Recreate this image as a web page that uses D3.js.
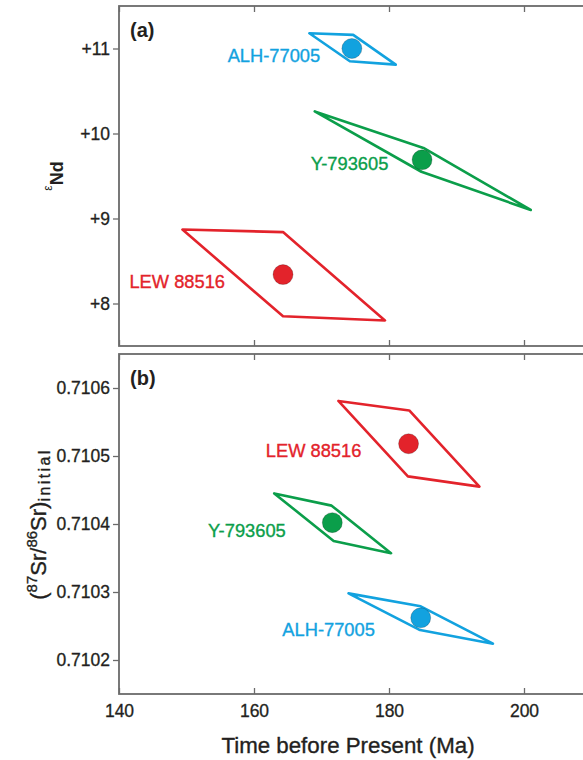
<!DOCTYPE html>
<html>
<head>
<meta charset="utf-8">
<script src="https://cdn.jsdelivr.net/npm/d3@7/dist/d3.min.js"></script>
<style>
  body { margin: 0; background: #fff; }
  svg { display: block; font-family: "Liberation Sans", Arial, sans-serif; }
  .frame { fill: none; stroke: #6b6b6b; stroke-width: 1.8; }
  .axis path { display: none; }
  .axis line { stroke: #6b6b6b; stroke-width: 1.3; }
  .axis text { font-size: 17.5px; fill: #231f20; stroke: #231f20; stroke-width: 0.3; font-family: "Liberation Sans", Arial, sans-serif; }
  .heavy { stroke-width: 0.35; }
</style>
</head>
<body>
<svg id="chart" width="583" height="760"></svg>
<script>
// Ticks
var timeTicks = [140, 160, 180, 200];
var ndTicks = [8, 9, 10, 11];
var srTicks = [0.7102, 0.7103, 0.7104, 0.7105, 0.7106];

// Samples, in the same order for every array below
var samples = ['ALH-77005', 'Y-793605', 'LEW 88516'];
var sampleColors = ['#12a2df', '#0b9e4a', '#e3232b'];

// (a) epsilon Nd vs age
var ndAge = [174.5, 184.9, 164.3];
var ndValue = [11.0, 9.69, 8.34];
var ndBoxes = [
  [[168.2, 11.18], [174.7, 11.16], [181.0, 10.81], [174.2, 10.85]],
  [[169.0, 10.26], [185.1, 9.83], [201.0, 9.10], [184.8, 9.55]],
  [[149.4, 8.87], [164.3, 8.84], [179.4, 7.80], [164.3, 7.85]]
];
// label anchors (text end), data units
var ndLabelAt = [[169.8, 10.84], [179.9, 9.57], [155.7, 8.18]];

// (b) initial Sr vs age
var srAge = [184.7, 171.6, 182.9];
var srValue = [0.710262, 0.710402, 0.710518];
var srBoxes = [
  [[174.0, 0.710298], [184.7, 0.710279], [195.4, 0.710224], [184.6, 0.710244]],
  [[163.0, 0.710445], [171.5, 0.710427], [180.3, 0.710357], [171.8, 0.710375]],
  [[172.5, 0.710581], [183.0, 0.710567], [193.4, 0.710455], [182.8, 0.710470]]
];
var srLabelAt = [[177.9, 0.710236], [164.7, 0.710381], [175.9, 0.710499]];

var svg = d3.select('#chart');

// Shared time scale (right edge runs off the page like the original)
var x = d3.scaleLinear().domain([140, 210]).range([119, 591.5]);

// Draw one panel
function drawPanel(opts) {
  var y = opts.y;
  var top = y.range()[1], bottom = y.range()[0];
  var g = svg.append('g');

  // Frame
  g.append('rect')
    .attr('class', 'frame')
    .attr('x', x.range()[0])
    .attr('y', top)
    .attr('width', x.range()[1] - x.range()[0])
    .attr('height', bottom - top);

  // Left axis, ticks out
  g.append('g')
    .attr('class', 'axis')
    .attr('transform', 'translate(' + x.range()[0] + ',0)')
    .call(d3.axisLeft(y).tickValues(opts.ticks).tickSize(6).tickPadding(3).tickFormat(opts.format));

  // Top and bottom ticks, pointing in
  g.append('g')
    .attr('class', 'axis')
    .attr('transform', 'translate(0,' + top + ')')
    .call(d3.axisTop(x).tickValues(timeTicks).tickSize(-6).tickFormat(''));

  var bottomAxis = d3.axisBottom(x).tickValues(timeTicks).tickSize(-6).tickPadding(11);
  if (!opts.timeLabels) bottomAxis.tickFormat('');
  g.append('g')
    .attr('class', 'axis')
    .attr('transform', 'translate(0,' + bottom + ')')
    .call(bottomAxis);

  // Panel letter
  g.append('text')
    .attr('x', 130)
    .attr('y', top + 31)
    .attr('font-size', 20)
    .attr('font-weight', 'bold')
    .attr('fill', '#231f20')
    .text(opts.letter);

  // Error parallelograms
  var line = d3.line()
    .x(function(d) { return x(d[0]); })
    .y(function(d) { return y(d[1]); })
    .curve(d3.curveLinearClosed);

  g.selectAll('.box')
    .data(opts.boxes)
    .enter().append('path')
    .attr('class', 'box')
    .attr('d', line)
    .attr('fill', 'none')
    .attr('stroke-width', 2.6)
    .attr('stroke-linejoin', 'round')
    .attr('stroke', function(d, i) { return sampleColors[i]; });

  // Points
  g.selectAll('.pt')
    .data(opts.age)
    .enter().append('circle')
    .attr('class', 'pt')
    .attr('cx', function(d) { return x(d); })
    .attr('cy', function(d, i) { return y(opts.value[i]); })
    .attr('r', 10)
    .attr('fill', function(d, i) { return sampleColors[i]; })
    .attr('stroke', 'rgba(0,0,0,0.25)')
    .attr('stroke-width', 0.8);

  // Sample labels
  g.selectAll('.lbl')
    .data(opts.labelAt)
    .enter().append('text')
    .attr('class', 'lbl heavy')
    .attr('x', function(d) { return x(d[0]); })
    .attr('y', function(d) { return y(d[1]); })
    .attr('text-anchor', 'end')
    .attr('font-size', 18.3)
    .attr('fill', function(d, i) { return sampleColors[i]; })
    .attr('stroke', function(d, i) { return sampleColors[i]; })
    .text(function(d, i) { return samples[i]; });
}

// (a)
var yNd = d3.scaleLinear().domain([7.5, 11.5]).range([346, 6]);
drawPanel({
  y: yNd,
  ticks: ndTicks,
  format: function(d) { return '+' + d; },
  letter: '(a)',
  boxes: ndBoxes,
  age: ndAge,
  value: ndValue,
  labelAt: ndLabelAt,
  timeLabels: false
});

// (b)
var ySr = d3.scaleLinear().domain([0.71015, 0.71065]).range([694, 354]);
drawPanel({
  y: ySr,
  ticks: srTicks,
  format: d3.format('.4f'),
  letter: '(b)',
  boxes: srBoxes,
  age: srAge,
  value: srValue,
  labelAt: srLabelAt,
  timeLabels: true
});

// Axis titles
svg.append('text')
  .attr('class', 'heavy')
  .attr('x', 348)
  .attr('y', 753)
  .attr('text-anchor', 'middle')
  .attr('font-size', 22.3)
  .attr('fill', '#231f20')
  .attr('stroke', '#231f20')
  .text('Time before Present (Ma)');

var ndTitle = svg.append('text')
  .attr('transform', 'translate(63,176) rotate(-90)')
  .attr('text-anchor', 'middle')
  .attr('fill', '#231f20');
ndTitle.append('tspan').attr('font-size', 12).attr('dy', -11).text('\u03b5');
ndTitle.append('tspan').attr('font-size', 18).attr('font-weight', 'bold').attr('dy', 11).text('Nd');

var srTitle = svg.append('text')
  .attr('class', 'heavy')
  .attr('transform', 'translate(46,524) rotate(-90)')
  .attr('text-anchor', 'middle')
  .attr('font-size', 22)
  .attr('fill', '#231f20')
  .attr('stroke', '#231f20');
srTitle.append('tspan').text('(');
srTitle.append('tspan').attr('font-size', 15).attr('dy', -9).text('87');
srTitle.append('tspan').attr('dy', 9).text('Sr/');
srTitle.append('tspan').attr('font-size', 15).attr('dy', -9).text('86');
srTitle.append('tspan').attr('dy', 9).text('Sr)');
srTitle.append('tspan').attr('font-size', 16).attr('letter-spacing', 2.4).attr('dy', 4).text('initial');
</script>
</body>
</html>
